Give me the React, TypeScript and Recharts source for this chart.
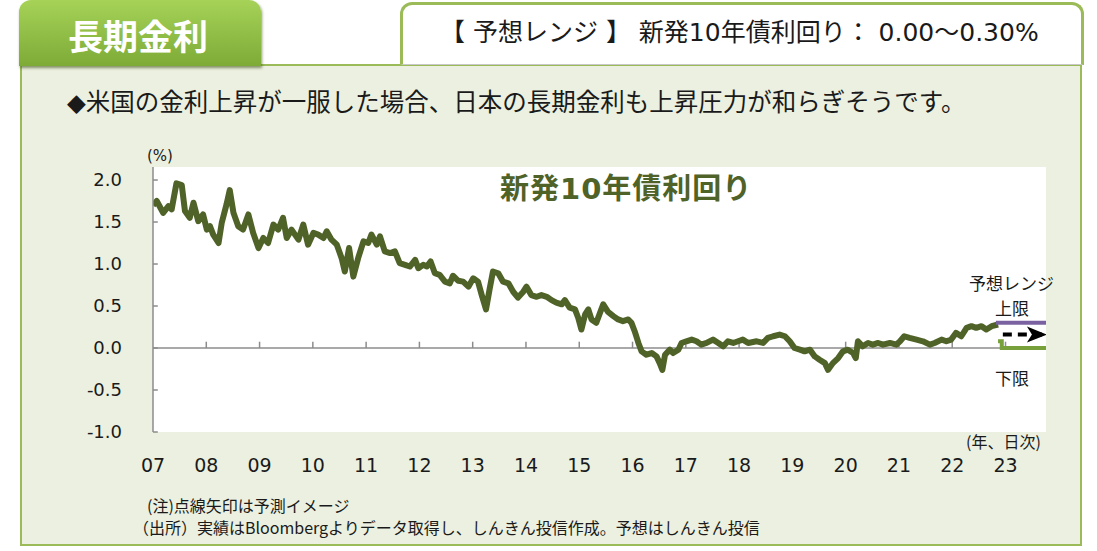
import React from "react";
import { LineChart, Line, XAxis, YAxis, CartesianGrid, ReferenceLine } from "recharts";

// 新発10年債利回り (%), decimal year -> yield
const dates = [
  2007.0, 2007.07, 2007.19, 2007.29, 2007.35, 2007.44, 2007.54, 2007.6, 2007.69, 2007.76, 2007.85, 2007.94,
  2008.01, 2008.07, 2008.13, 2008.23, 2008.29, 2008.38, 2008.44, 2008.51, 2008.6, 2008.69, 2008.79, 2008.88, 2008.98,
  2009.07, 2009.16, 2009.26, 2009.35, 2009.44, 2009.51, 2009.6, 2009.73, 2009.82, 2009.91,
  2010.01, 2010.1, 2010.2, 2010.26, 2010.35, 2010.45, 2010.54, 2010.6, 2010.68, 2010.76, 2010.85, 2010.95,
  2011.04, 2011.1, 2011.2, 2011.26, 2011.35, 2011.45, 2011.54, 2011.63, 2011.73, 2011.82, 2011.92, 2011.98,
  2012.07, 2012.14, 2012.21, 2012.29, 2012.38, 2012.48, 2012.57, 2012.63, 2012.73, 2012.82, 2012.92,
  2013.01, 2013.1, 2013.17, 2013.25, 2013.32, 2013.38, 2013.48, 2013.57, 2013.67, 2013.76, 2013.85, 2013.95,
  2014.01, 2014.1, 2014.2, 2014.29, 2014.39, 2014.48, 2014.57, 2014.67, 2014.73, 2014.82, 2014.92, 2014.98,
  2015.04, 2015.11, 2015.17, 2015.23, 2015.32, 2015.39, 2015.45, 2015.54, 2015.64, 2015.73, 2015.82, 2015.92, 2015.98,
  2016.04, 2016.11, 2016.17, 2016.26, 2016.36, 2016.45, 2016.51, 2016.56, 2016.61, 2016.7, 2016.76, 2016.86, 2016.92,
  2017.01, 2017.11, 2017.2, 2017.29, 2017.39, 2017.51, 2017.61, 2017.7, 2017.79, 2017.89, 2017.98,
  2018.07, 2018.17, 2018.33, 2018.45, 2018.54, 2018.64, 2018.76, 2018.86, 2018.95,
  2019.04, 2019.14, 2019.23, 2019.33, 2019.42, 2019.51, 2019.61, 2019.67, 2019.76, 2019.86, 2019.95,
  2020.04, 2020.14, 2020.19, 2020.23, 2020.32, 2020.42, 2020.51, 2020.61, 2020.7, 2020.83, 2020.95,
  2021.02, 2021.1, 2021.2, 2021.33, 2021.45, 2021.58, 2021.67, 2021.8, 2021.89, 2021.98,
  2022.07, 2022.17, 2022.27, 2022.36, 2022.45, 2022.55, 2022.64, 2022.74, 2022.86,
];
const yields = [
  1.7, 1.75, 1.61, 1.69, 1.65, 1.96, 1.94, 1.63, 1.55, 1.73, 1.51, 1.59,
  1.41, 1.45, 1.35, 1.25, 1.49, 1.71, 1.88, 1.61, 1.45, 1.41, 1.59, 1.37, 1.19,
  1.31, 1.25, 1.47, 1.41, 1.55, 1.31, 1.41, 1.29, 1.47, 1.23,
  1.37, 1.35, 1.31, 1.39, 1.29, 1.23, 1.07, 0.91, 1.19, 0.85, 1.07, 1.27,
  1.25, 1.35, 1.23, 1.33, 1.15, 1.13, 1.15, 1.01, 0.99, 0.97, 1.05, 0.95,
  0.99, 0.97, 1.03, 0.89, 0.87, 0.79, 0.77, 0.86, 0.8, 0.79, 0.73,
  0.83, 0.79, 0.63, 0.46, 0.71, 0.91, 0.89, 0.79, 0.77, 0.67, 0.6, 0.67,
  0.73, 0.63, 0.61, 0.63, 0.61, 0.57, 0.54, 0.52, 0.57, 0.48, 0.46, 0.36,
  0.22, 0.4, 0.46, 0.34, 0.3, 0.42, 0.52, 0.43, 0.38, 0.34, 0.32, 0.34, 0.3,
  0.2, 0.06, -0.04, -0.08, -0.06, -0.1, -0.18, -0.26, -0.08, -0.02, -0.06, -0.02, 0.06,
  0.08, 0.1, 0.08, 0.04, 0.06, 0.1, 0.06, 0.02, 0.08, 0.06, 0.08,
  0.1, 0.06, 0.08, 0.06, 0.12, 0.14, 0.16, 0.14, 0.08,
  0.0, -0.02, -0.04, -0.02, -0.1, -0.14, -0.18, -0.26, -0.18, -0.12, -0.04,
  -0.02, -0.06, -0.12, 0.08, 0.02, 0.06, 0.04, 0.06, 0.04, 0.06, 0.04,
  0.08, 0.14, 0.12, 0.1, 0.08, 0.04, 0.06, 0.1, 0.08, 0.1,
  0.18, 0.14, 0.24, 0.26, 0.24, 0.26, 0.22, 0.26, 0.28,
];

// 予想レンジ 0.00〜0.30%
const rangeX = [2022.82, 2023.76];
const upperY = [0.3, 0.3];
const lowerX = [2022.86, 2022.93, 2022.93, 2023.76];
const lowerY = [0.08, 0.08, 0.0, 0.0];
const arrowX = [2022.95, 2023.74];
const arrowY = [0.16, 0.16];

const yTicks = [-1, -0.5, 0, 0.5, 1, 1.5, 2];
const yearTicks = [2007, 2008, 2009, 2010, 2011, 2012, 2013, 2014, 2015, 2016, 2017, 2018, 2019, 2020, 2021, 2022, 2023];
const yearLabels = ["07", "08", "09", "10", "11", "12", "13", "14", "15", "16", "17", "18", "19", "20", "21", "22", "23"];

const FONT = "'DejaVu Sans', 'Noto Sans CJK JP', sans-serif";
const JP = "'Noto Sans CJK JP', sans-serif";
const AXIS = "#8c8c8c";

const history = dates.map((x, i) => ({ x, y: yields[i] }));
const upper = rangeX.map((x, i) => ({ x, y: upperY[i] }));
const lower = lowerX.map((x, i) => ({ x, y: lowerY[i] }));
const arrow = arrowX.map((x, i) => ({ x, y: arrowY[i] }));

const ArrowHead = (props: any) => {
  const { cx, cy, index } = props;
  if (index !== arrow.length - 1) return <g key={"ah" + index} />;
  return (
    <path
      key="ah-end"
      d={`M${cx - 18},${cy - 8} L${cx + 2},${cy} L${cx - 18},${cy + 8} L${cx - 13},${cy} Z`}
      fill="#000"
    />
  );
};

const Txt = (p: {
  x: number;
  y: number;
  size: number;
  children: React.ReactNode;
  color?: string;
  bold?: boolean;
  font?: string;
  spacing?: number;
}) => (
  <div
    style={{
      position: "absolute",
      left: p.x,
      top: p.y - p.size / 2,
      fontSize: p.size,
      lineHeight: 1,
      whiteSpace: "nowrap",
      color: p.color ?? "#1a1a1a",
      fontWeight: p.bold ? 700 : 400,
      fontFamily: p.font ?? FONT,
      letterSpacing: p.spacing ?? 0,
    }}
  >
    {p.children}
  </div>
);

export default function App() {
  return (
    <div style={{ position: "absolute", left: 0, top: 0, width: 1097, height: 551, background: "#fff", overflow: "hidden" }}>
      {/* panel */}
      <div
        style={{
          position: "absolute",
          left: 20,
          top: 64,
          width: 1062,
          height: 482,
          background: "#ebf0e0",
          border: "2px solid #9bbb59",
          boxSizing: "border-box",
        }}
      />
      {/* range box */}
      <div
        style={{
          position: "absolute",
          left: 400,
          top: 2,
          width: 684,
          height: 63,
          background: "#fff",
          border: "3px solid #9bbb59",
          borderBottom: "1px solid #c8c8c8",
          borderRadius: "12px 12px 0 0",
          boxSizing: "border-box",
        }}
      />
      {/* title tab */}
      <div
        style={{
          position: "absolute",
          left: 19,
          top: 0,
          width: 242,
          height: 66,
          background: "linear-gradient(#a6d258, #7dab36)",
          borderRadius: "12px 12px 0 0",
          boxShadow: "1px 2px 3px rgba(60,80,20,0.6)",
        }}
      />
      <Txt x={68} y={34} size={35} color="#fff" bold font={JP}>長期金利</Txt>
      <Txt x={440} y={32} size={25}>【 予想レンジ 】 新発10年債利回り： 0.00〜0.30%</Txt>
      <Txt x={67} y={103} size={24.5}>◆米国の金利上昇が一服した場合、日本の長期金利も上昇圧力が和らぎそうです。</Txt>

      <LineChart
        width={1097}
        height={551}
        margin={{ top: 167, right: 51, bottom: 79, left: 103 }}
        style={{ position: "absolute", left: 0, top: 0 }}
      >
        <CartesianGrid fill="#ffffff" stroke="none" horizontal={false} vertical={false} />
        <XAxis
          type="number"
          dataKey="x"
          domain={[2007, 2023.76]}
          ticks={yearTicks}
          tickFormatter={(v: number) => yearLabels[yearTicks.indexOf(v)]}
          axisLine={false}
          tickLine={false}
          tickSize={0}
          tickMargin={27}
          height={40}
          allowDataOverflow
          interval={0}
          tick={{ fontSize: 19, fill: "#1a1a1a", fontFamily: FONT }}
        />
        <YAxis
          type="number"
          domain={[-1, 2.155]}
          ticks={yTicks}
          tickFormatter={(v: number) => v.toFixed(1)}
          axisLine={{ stroke: AXIS, strokeWidth: 1.5 }}
          tickLine={false}
          tickSize={0}
          tickMargin={31}
          width={50}
          allowDataOverflow
          interval={0}
          tick={{ fontSize: 18, fill: "#1a1a1a", fontFamily: FONT }}
        />
        <ReferenceLine y={0} stroke={AXIS} strokeWidth={1.5} />
        {yTicks.map((v) => (
          <ReferenceLine key={"yt" + v} segment={[{ x: 2007, y: v }, { x: 2007.09, y: v }]} stroke={AXIS} strokeWidth={1.5} />
        ))}
        {yearTicks.slice(1).map((yr) => (
          <ReferenceLine key={"xt" + yr} segment={[{ x: yr, y: 0 }, { x: yr, y: 0.075 }]} stroke={AXIS} strokeWidth={1.5} />
        ))}
        <Line
          data={history}
          dataKey="y"
          stroke="#4f6228"
          strokeWidth={6}
          strokeLinejoin="round"
          dot={false}
          isAnimationActive={false}
        />
        <Line data={upper} dataKey="y" stroke="#7a62a0" strokeWidth={4} dot={false} isAnimationActive={false} />
        <Line data={lower} dataKey="y" stroke="#77a03a" strokeWidth={4} dot={false} isAnimationActive={false} />
        <Line
          data={arrow}
          dataKey="y"
          stroke="#000"
          strokeWidth={4}
          strokeDasharray="9 6"
          dot={ArrowHead}
          isAnimationActive={false}
        />
      </LineChart>

      <Txt x={500} y={189} size={29} color="#4f6228" bold spacing={1}>新発10年債利回り</Txt>
      <Txt x={147} y={156} size={15}>(%)</Txt>
      <Txt x={969} y={282} size={17} font={JP}>予想レンジ</Txt>
      <Txt x={995} y={307} size={17} font={JP}>上限</Txt>
      <Txt x={995} y={377} size={17} font={JP}>下限</Txt>
      <Txt x={966} y={441} size={16} font={JP}>(年、日次)</Txt>
      <Txt x={147} y={505} size={16} font={JP}>(注)点線矢印は予測イメージ</Txt>
      <Txt x={133} y={527} size={16} font={JP}>（出所）実績はBloombergよりデータ取得し、しんきん投信作成。予想はしんきん投信</Txt>
    </div>
  );
}
